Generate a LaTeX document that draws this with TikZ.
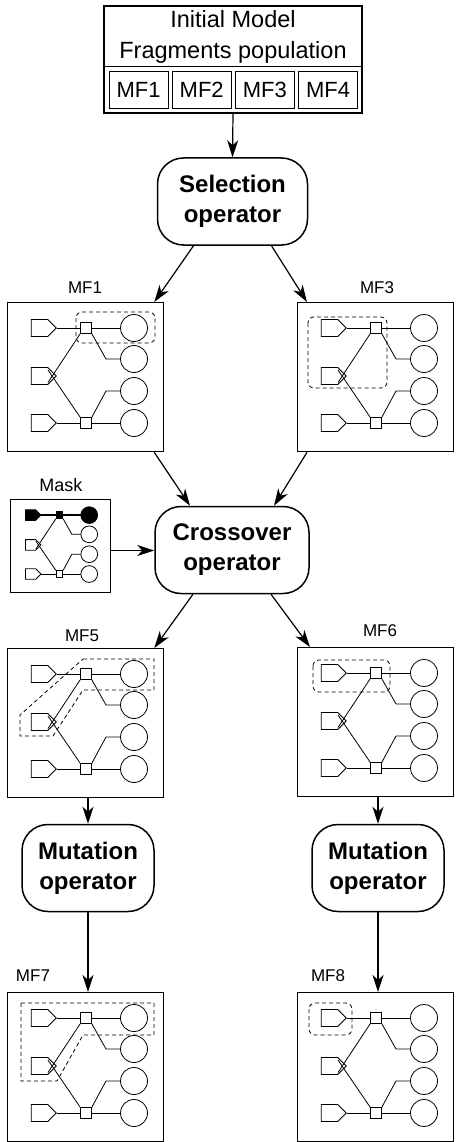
\documentclass[tikz,border=0pt]{standalone}
\usepackage{fontspec}
\setmainfont{Liberation Sans}
\usetikzlibrary{arrows.meta,shapes.symbols}
\tikzset{
  arr/.style={-{Stealth[length=17pt,width=11pt,inset=5pt]}, line width=1.2pt},
  panelbox/.style={draw, line width=1.3pt, inner sep=0pt},
  opbox/.style={draw, rounded corners=26pt, line width=1.5pt, align=center,
    font=\bfseries\fontsize{24}{30}\selectfont, minimum height=87pt, inner sep=0pt},
  pent/.style={signal, signal to=east, draw, minimum width=25pt, minimum height=17pt, inner sep=0pt, line width=0.8pt},
  sq/.style={draw, minimum size=11pt, inner sep=0pt, line width=0.8pt},
  circ/.style={circle, draw, minimum size=27pt, inner sep=0pt, line width=0.8pt},
  wire/.style={line width=0.8pt},
  hl/.style={line width=0.8pt, dash pattern=on 4pt off 3pt},
  lbl/.style={anchor=base, inner sep=0pt, font=\fontsize{17}{20}\selectfont},
  toprow/.style={}, topwire/.style={},
}
\newcommand\mfpanel[1]{%
  \node[pent,toprow] (#1p1) at (32.5,26) {};
  \node[pent] (#1p2) at (32.5,74) {};
  \node[pent] (#1p3) at (32.5,121) {};
  \node[sq,toprow] (#1s1) at (79,26) {};
  \node[sq] (#1s2) at (79,121) {};
  \node[circ,toprow] (#1c1) at (127,26) {};
  \node[circ] (#1c2) at (127,57) {};
  \node[circ] (#1c3) at (127,89) {};
  \node[circ] (#1c4) at (127,121) {};
  \coordinate (#1b1) at (99,57);
  \coordinate (#1b2) at (99,89);
  \coordinate (#1x1) at (41,80.5);
  \coordinate (#1x2) at (41,68);
  \draw[wire,topwire] (#1p1.east) -- (#1s1.west) (#1s1.east) -- (#1c1.west);
  \draw[wire] (#1p3.east) -- (#1s2.west) (#1s2.east) -- (#1c4.west);
  \draw[wire] (#1s1.south east) -- (#1b1) -- (#1c2.west);
  \draw[wire] (#1s2.north east) -- (#1b2) -- (#1c3.west);
  \draw[wire] (#1s1.south west) -- (#1x1);
  \draw[wire] (#1s2.north west) -- (#1x2);
}
\begin{document}
\begin{tikzpicture}[x=1pt,y=-1pt]
\useasboundingbox (0,0) rectangle (457,1142);
% initial population
\node[panelbox, minimum width=258pt, minimum height=107pt] (init) at (233,59.5) {};
\coordinate (sepl) at (104,67);
\coordinate (sepr) at (362,67);
\draw[line width=1pt] (sepl) -- (sepr);
\node[lbl, font=\fontsize{23.5}{28}\selectfont] (t1) at (233,28) {Initial Model};
\node[lbl, font=\fontsize{23.5}{28}\selectfont] (t2) at (233,59) {Fragments population};
\foreach \i/\x in {1/138.5,2/201.7,3/264.9,4/328.1}{
  \node[draw, line width=0.9pt, minimum width=59pt, minimum height=37pt, inner sep=0pt] (b\i) at (\x,89.5) {};
  \node[lbl, font=\fontsize{22}{26}\selectfont] (bt\i) at (\x,98) {MF\i};
}
% operators
\node[opbox, minimum width=150pt] (sel) at (232.5,201.5) {Selection\\operator};
\node[opbox, minimum width=154pt] (cross) at (232,550) {Crossover\\operator};
\node[opbox, minimum width=132pt] (mutl) at (88,868) {Mutation\\operator};
\node[opbox, minimum width=132pt] (mutr) at (378,868) {Mutation\\operator};
% panels
\node[panelbox, minimum width=156pt, minimum height=149pt, anchor=north west] (mf1) at (7,302) {};
\node[panelbox, minimum width=156pt, minimum height=149pt, anchor=north west] (mf3) at (297,302) {};
\node[panelbox, minimum width=156pt, minimum height=149pt, anchor=north west] (mf5) at (7,648) {};
\node[panelbox, minimum width=156pt, minimum height=149pt, anchor=north west] (mf6) at (297,647) {};
\node[panelbox, minimum width=156pt, minimum height=149pt, anchor=north west] (mf7) at (7,992) {};
\node[panelbox, minimum width=156pt, minimum height=149pt, anchor=north west] (mf8) at (297,992) {};
\node[panelbox, line width=1pt, minimum width=100pt, minimum height=93pt, anchor=north west] (mask) at (10,499) {};
% labels
\node[lbl] (l1) at (85,293.5) {MF1};
\node[lbl] (l3) at (377,293.5) {MF3};
\node[lbl] (l5) at (82,641.5) {MF5};
\node[lbl] (l6) at (380,636.5) {MF6};
\node[lbl] (l7) at (33,981.5) {MF7};
\node[lbl] (l8) at (328,981.5) {MF8};
\node[lbl, font=\fontsize{18}{21}\selectfont] (lm) at (61,491) {Mask};
% panel contents
\begin{scope}[shift={(7,302)}]
  \mfpanel{a}
  \draw[hl, rounded corners=6pt] (69,10) rectangle (148,41);
\end{scope}
\begin{scope}[shift={(297,302)}]
  \mfpanel{c}
  \draw[hl, rounded corners=6pt] (11,15) rectangle (90,86);
\end{scope}
\begin{scope}[shift={(7,648)}]
  \mfpanel{e}
  \draw[hl] (76,11) -- (147,11) -- (147,42) -- (76,42) -- (46,88) -- (13,88) -- (13,67) -- cycle;
\end{scope}
\begin{scope}[shift={(297,647)}]
  \mfpanel{f}
  \draw[hl, rounded corners=6pt] (16,13) rectangle (93,45);
\end{scope}
\begin{scope}[shift={(7,992)}]
  \mfpanel{g}
  \draw[hl] (14,11) -- (147,11) -- (147,43) -- (76,43) -- (50,89) -- (14,89) -- cycle;
\end{scope}
\begin{scope}[shift={(297,992)}]
  \mfpanel{h}
  \draw[hl, rounded corners=6pt] (12,11) rectangle (55,43);
\end{scope}
\begin{scope}[shift={(10.5,499)}, scale=0.62, transform shape,
    toprow/.style={fill=black}, topwire/.style={line width=1.6pt}]
  \mfpanel{m}
\end{scope}
% arrows
\draw[arr] (init.south) -- (sel.north);
\draw[arr] ([xshift=-39pt]sel.south) -- ([xshift=-10pt]mf1.north east);
\draw[arr] ([xshift=39pt]sel.south) -- ([xshift=10pt]mf3.north west);
\draw[arr] ([xshift=-10pt]mf1.south east) -- ([xshift=-42pt]cross.north);
\draw[arr] ([xshift=10pt]mf3.south west) -- ([xshift=42pt]cross.north);
\draw[arr] ([yshift=-4.5pt]mask.east) -- ([yshift=-4.5pt]mask.east -| cross.west);
\draw[arr] ([xshift=-39pt]cross.south) -- ([xshift=-10pt]mf5.north east);
\draw[arr] ([xshift=39pt]cross.south) -- ([xshift=13pt]mf6.north west);
\draw[arr] (mutl.north |- mf5.south) -- (mutl.north);
\draw[arr] (mutl.south) -- (mutl.south |- mf7.north);
\draw[arr] (mutr.north |- mf6.south) -- (mutr.north);
\draw[arr] (mutr.south) -- (mutr.south |- mf8.north);
\end{tikzpicture}
\end{document}
